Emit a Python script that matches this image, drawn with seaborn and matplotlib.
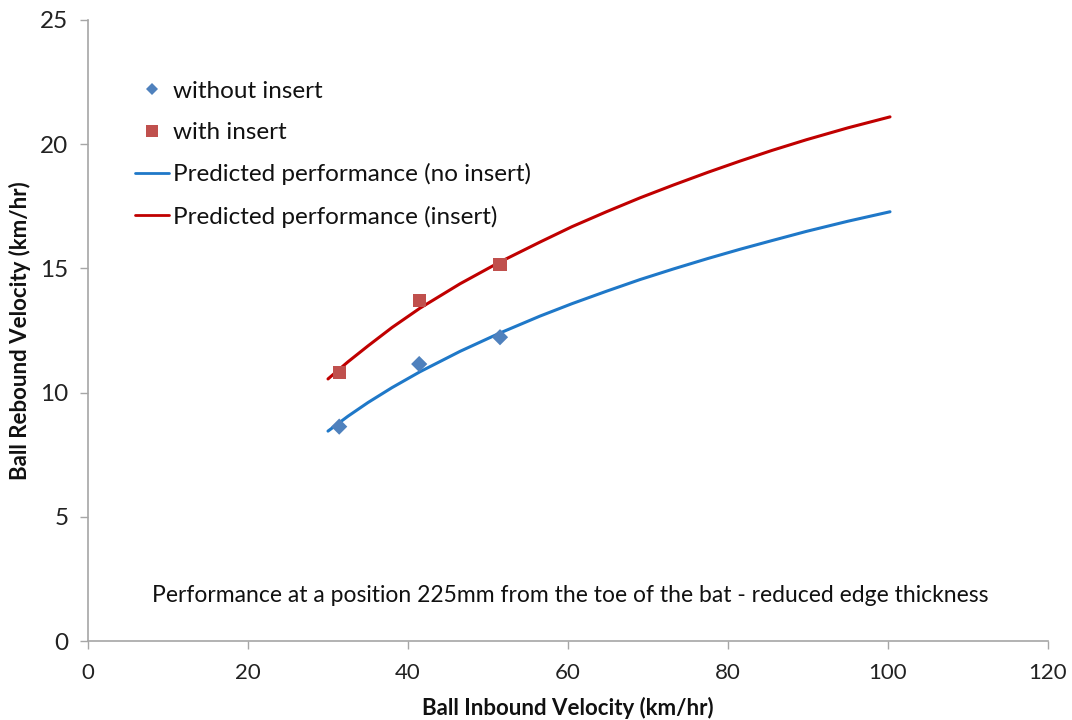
import matplotlib
matplotlib.use("Agg")
import matplotlib.pyplot as plt
import seaborn as sns
import pandas as pd
from matplotlib.lines import Line2D

# measured points
inbound = [31.4, 41.4, 51.5]
rebound_without = [8.63, 11.15, 12.23]
rebound_with = [10.82, 13.69, 15.14]

# predicted curves
curve_x = [30.0, 32.5, 35.0, 38.0, 41.5, 46.5, 51.5, 56.5, 60.5, 64.8, 69.0,
           73.2, 77.5, 81.5, 85.5, 89.8, 95.0, 100.25]
curve_no_insert = [8.45, 9.05, 9.6, 10.2, 10.84, 11.66, 12.4, 13.08, 13.58,
                   14.08, 14.55, 14.98, 15.4, 15.77, 16.12, 16.49, 16.9, 17.28]
curve_insert = [10.55, 11.24, 11.88, 12.62, 13.4, 14.38, 15.26, 16.06, 16.68,
                17.28, 17.84, 18.36, 18.87, 19.32, 19.75, 20.18, 20.66, 21.1]

x_ticks = [0, 20, 40, 60, 80, 100, 120]
y_ticks = [0, 5, 10, 15, 20, 25]

sns.set_theme(style="white")
plt.rcParams["font.family"] = ["Lato", "DejaVu Sans"]

fig = plt.figure(figsize=(10.72, 7.2), dpi=100)
ax = fig.add_axes([88 / 1072, 79 / 720, 960 / 1072, 621 / 720])

df_pts = pd.DataFrame({
    "x": inbound * 2,
    "y": rebound_without + rebound_with,
    "series": ["without insert"] * 3 + ["with insert"] * 3,
})
df_curve = pd.DataFrame({
    "x": curve_x * 2,
    "y": curve_no_insert + curve_insert,
    "series": ["Predicted performance (no insert)"] * len(curve_x)
    + ["Predicted performance (insert)"] * len(curve_x),
})

sns.lineplot(data=df_curve, x="x", y="y", hue="series", sort=False,
             estimator=None,
             palette={"Predicted performance (no insert)": "#1F78C8",
                      "Predicted performance (insert)": "#C00000"},
             linewidth=2.2, ax=ax, legend=False)
sns.scatterplot(data=df_pts, x="x", y="y", hue="series", style="series",
                markers={"without insert": "D", "with insert": "s"},
                palette={"without insert": "#4F81BD", "with insert": "#C0504D"},
                size="series", sizes={"without insert": 68, "with insert": 88},
                linewidth=0, ax=ax, legend=False, zorder=3)

ax.set_xlim(0, 120)
ax.set_ylim(0, 25)
ax.set_xticks(x_ticks)
ax.set_yticks(y_ticks)
ax.tick_params(axis="both", colors="#A6A6A6", length=6,
               width=1, direction="out", bottom=True, left=True)
ax.tick_params(axis="x", pad=10, labelsize=16)
ax.tick_params(axis="y", pad=8, labelsize=17.5)
for lab in ax.get_xticklabels() + ax.get_yticklabels():
    lab.set_color("#222222")
for s in ["top", "right"]:
    ax.spines[s].set_visible(False)
for s in ["left", "bottom"]:
    ax.spines[s].set_color("#A6A6A6")
    ax.spines[s].set_linewidth(1.2)

ax.set_xlabel("Ball Inbound Velocity (km/hr)", fontsize=16, fontweight="bold",
              color="#111111", labelpad=10)
ax.set_ylabel("Ball Rebound Velocity (km/hr)", fontsize=16, fontweight="bold",
              color="#111111", labelpad=7)

# legend
handles = [
    Line2D([], [], linestyle="none", marker="D", markersize=6.5,
           markerfacecolor="#4F81BD", markeredgewidth=0),
    Line2D([], [], linestyle="none", marker="s", markersize=8,
           markerfacecolor="#C0504D", markeredgewidth=0),
    Line2D([], [], color="#1F78C8", linewidth=2),
    Line2D([], [], color="#C00000", linewidth=2),
]
labels = ["without insert", "with insert",
          "Predicted performance (no insert)", "Predicted performance (insert)"]
ax.legend(handles, labels, loc="upper left", bbox_to_anchor=(0.049, 0.902),
          frameon=False, fontsize=17.5, handlelength=1.4, handletextpad=0.15,
          labelspacing=0.83, borderpad=0, borderaxespad=0, labelcolor="#111111")

ax.text(0.502, 0.074,
        "Performance at a position 225mm from the toe of the bat - reduced edge thickness",
        transform=ax.transAxes, ha="center", va="center", fontsize=16.5,
        color="#111111")

fig.savefig("out.png", dpi=100)
